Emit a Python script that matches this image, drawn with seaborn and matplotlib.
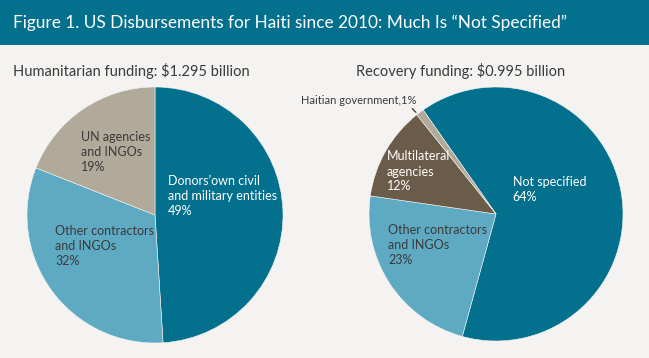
import matplotlib

matplotlib.use("Agg")
import matplotlib.pyplot as plt
import seaborn as sns
from matplotlib.patches import Rectangle

TITLE = "Figure 1. US Disbursements for Haiti since 2010: Much Is \u201cNot Specified\u201d"

HUM_TITLE = "Humanitarian funding: $1.295 billion"
HUM_LABELS = ["Donors\u2019own civil\nand military entities", "Other contractors\nand INGOs", "UN agencies\nand INGOs"]
HUM_SHARES = [49, 32, 19]

REC_TITLE = "Recovery funding: $0.995 billion"
REC_LABELS = ["Not specified", "Other contractors\nand INGOs", "Multilateral\nagencies", "Haitian government"]
REC_SHARES = [64, 23, 12, 1]

DARK_TEAL = "#03708d"
LIGHT_BLUE = "#5eaac3"
TAN = "#b1a999"
BROWN = "#6a5c48"
BG = "#f4f3f1"
TEXT_DARK = "#3a3a3a"

W, H = 649, 358


def px_axes(fig, cx, cy, r):
    # axes box in pixel coords (origin top-left) around a pie of radius r
    return fig.add_axes([(cx - r) / W, 1 - (cy + r) / H, 2 * r / W, 2 * r / H])


def draw_pie(ax, shares, colors, startangle):
    ax.pie(
        shares,
        colors=colors,
        startangle=startangle,
        counterclock=False,
        radius=1.0,
        wedgeprops={"linewidth": 0.4, "edgecolor": BG},
    )
    ax.set_xlim(-1, 1)
    ax.set_ylim(-1, 1)
    ax.set_aspect("equal")
    ax.axis("off")


def label(ax, x, y, name, share, color):
    ax.text(x, y, f"{name}\n{share}%", color=color, fontsize=9, ha="left", va="top",
            linespacing=1.3)


sns.set_theme(style="white")
plt.rcParams["font.family"] = ["Lato", "DejaVu Sans"]

fig = plt.figure(figsize=(W / 100, H / 100), dpi=100, facecolor=BG)

# header band
fig.patches.append(Rectangle((0, 1 - 45 / H), 1, 45 / H, transform=fig.transFigure,
                             facecolor=DARK_TEAL, edgecolor="none", zorder=0))
fig.text(13 / W, 1 - 23 / H, TITLE, color="white", fontsize=12.4, va="center", ha="left")

fig.text(13 / W, 1 - 71 / H, HUM_TITLE, color=TEXT_DARK, fontsize=10.5, va="center", ha="left")
fig.text(356 / W, 1 - 71 / H, REC_TITLE, color=TEXT_DARK, fontsize=10.5, va="center", ha="left")

# humanitarian pie
ax1 = px_axes(fig, 155, 215, 128)
draw_pie(ax1, HUM_SHARES, [DARK_TEAL, LIGHT_BLUE, TAN], 90)
label(ax1, 0.10, 0.31, HUM_LABELS[0], HUM_SHARES[0], "white")
label(ax1, -0.78, -0.08, HUM_LABELS[1], HUM_SHARES[1], TEXT_DARK)
label(ax1, -0.58, 0.66, HUM_LABELS[2], HUM_SHARES[2], TEXT_DARK)

# recovery pie
ax2 = px_axes(fig, 496, 214, 127)
draw_pie(ax2, REC_SHARES, [DARK_TEAL, LIGHT_BLUE, BROWN, TAN], 125)
label(ax2, 0.13, 0.30, REC_LABELS[0], REC_SHARES[0], "white")
label(ax2, -0.85, -0.08, REC_LABELS[1], REC_SHARES[1], TEXT_DARK)
label(ax2, -0.86, 0.50, REC_LABELS[2], REC_SHARES[2], "white")
ax2.text(-0.63, 0.89, f"{REC_LABELS[3]},{REC_SHARES[3]}%", color=TEXT_DARK, fontsize=8,
         ha="right", va="center", clip_on=False)
ax2.plot([-0.66, -0.63], [0.83, 0.80], color="#222222", lw=0.8, clip_on=False)

fig.savefig("out.png", dpi=100, facecolor=BG)
